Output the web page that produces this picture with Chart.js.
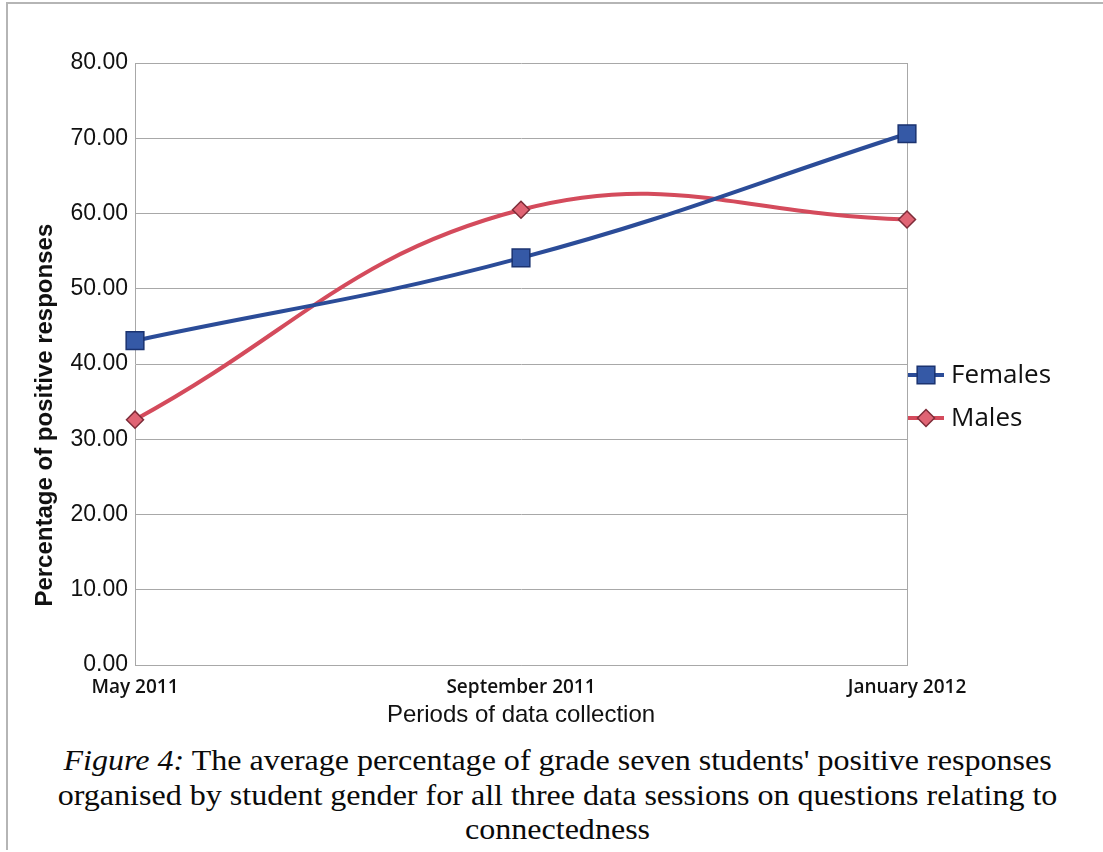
<!DOCTYPE html>
<html>
<head>
<meta charset="utf-8">
<script src="https://cdn.jsdelivr.net/npm/chart.js@4.4.1/dist/chart.umd.min.js"></script>
<style>
  html, body { margin: 0; padding: 0; background: #fff; }
  #page { position: relative; width: 1103px; height: 852px; overflow: hidden; background: #fff; }
  #frame { position: absolute; left: 6px; top: 2px; width: 1097px; height: 848px;
           border-left: 2px solid #b5b5b5; border-top: 2px solid #b5b5b5; box-sizing: border-box; }
  #chartBox { position: absolute; left: 0; top: 0; width: 1103px; height: 740px; }
  #caption { position: absolute; left: 6px; top: 743px; width: 1103px; text-align: center;
             font-family: "Liberation Serif", "Times New Roman", serif; font-size: 29px;
             line-height: 34.5px; color: #0a0a0a; transform: scaleX(1.105); transform-origin: 551px 0; }
  #caption i { font-style: italic; }
</style>
</head>
<body>
<div id="page">
  <div id="frame"></div>
  <div id="chartBox"><canvas id="chart" width="1103" height="740"></canvas></div>
  <div id="caption"><i>Figure 4:</i> The average percentage of grade seven students' positive responses<br>organised by student gender for all three data sessions on questions relating to<br>connectedness</div>
</div>
<script>
// Survey periods and average % of positive responses per gender
const periods = ['May 2011', 'September 2011', 'January 2012'];
const females = [43.1, 54.1, 70.6];
const males = [32.6, 60.5, 59.2];
const yTicks = [0, 10, 20, 30, 40, 50, 60, 70, 80];
const yTitle = 'Percentage of positive responses';

const seriesNames = ['Females', 'Males'];
const lineColors = ['#2B4C98', '#D44B5C'];
const markerFill = ['#3559A6', '#E06474'];
const markerEdge = ['#1B3370', '#7E2C39'];
const markerShape = ['rect', 'rectRot'];
const markerRadius = [12.5, 8.5];

const GRID = '#a8a8a8';

// Legend drawn to the right of the plot: a short line sample with the marker on it
const lineLegend = {
  id: 'lineLegend',
  afterDraw(chart) {
    const { ctx, chartArea } = chart;
    const x0 = chartArea.right + 1;
    const x1 = x0 + 36;
    const rows = [375, 418];
    ctx.save();
    chart.data.datasets.forEach((ds, i) => {
      const y = rows[i];
      ctx.strokeStyle = ds.borderColor;
      ctx.lineWidth = 4;
      ctx.beginPath();
      ctx.moveTo(x0, y);
      ctx.lineTo(x1, y);
      ctx.stroke();
      ctx.fillStyle = ds.pointBackgroundColor;
      ctx.strokeStyle = ds.pointBorderColor;
      ctx.lineWidth = 1.5;
      Chart.helpers.drawPoint(ctx, {
        pointStyle: ds.pointStyle, rotation: 0, borderWidth: 1.5, radius: ds.pointRadius
      }, (x0 + x1) / 2, y);
      ctx.fillStyle = '#111';
      ctx.font = '26px "Open Sans", sans-serif';
      ctx.textAlign = 'left';
      ctx.textBaseline = 'middle';
      ctx.fillText(ds.label, x1 + 7, y + 1);
    });
    ctx.restore();
  }
};

// Right-hand outline of the plot area and the rotated value-axis title
const plotFrame = {
  id: 'plotFrame',
  beforeDatasetsDraw(chart) {
    const { ctx, chartArea } = chart;
    ctx.save();
    ctx.strokeStyle = GRID;
    ctx.lineWidth = 1;
    ctx.beginPath();
    ctx.moveTo(Math.round(chartArea.right) + 0.5, chartArea.top);
    ctx.lineTo(Math.round(chartArea.right) + 0.5, chartArea.bottom);
    ctx.stroke();

    ctx.translate(45, chartArea.top + (chartArea.bottom - chartArea.top) * 0.585);
    ctx.rotate(-Math.PI / 2);
    ctx.fillStyle = '#111';
    ctx.font = 'bold 24px "Liberation Sans", Arial, sans-serif';
    ctx.textAlign = 'center';
    ctx.textBaseline = 'middle';
    ctx.fillText(yTitle, 0, 0);
    ctx.restore();
  }
};

const datasets = [females, males].map((vals, i) => ({
  label: seriesNames[i],
  data: vals,
  borderColor: lineColors[i],
  borderWidth: 4,
  tension: 0.42,
  pointStyle: markerShape[i],
  pointRadius: markerRadius[i],
  pointHoverRadius: markerRadius[i],
  pointBackgroundColor: markerFill[i],
  pointBorderColor: markerEdge[i],
  pointBorderWidth: 1.5,
  clip: false
}));

new Chart(document.getElementById('chart'), {
  type: 'line',
  data: { labels: periods, datasets },
  options: {
    responsive: false,
    animation: false,
    events: [],
    layout: { padding: { top: 63, right: 196, bottom: 0, left: 0 } },
    plugins: {
      legend: { display: false },
      tooltip: { enabled: false }
    },
    scales: {
      x: {
        type: 'category',
        offset: false,
        grid: { display: false, drawTicks: false },
        border: { display: true, color: GRID, width: 1 },
        ticks: {
          padding: 11,
          maxRotation: 0,
          autoSkip: false,
          color: '#111',
          font: { family: '"Open Sans", sans-serif', size: 19, weight: '600' }
        },
        title: {
          display: true,
          text: 'Periods of data collection',
          color: '#111',
          padding: { top: 0, bottom: 10 },
          font: { family: '"Liberation Sans", Arial, sans-serif', size: 24 }
        },
        afterFit(s) { s.height = 75; }
      },
      y: {
        min: 0,
        max: 80,
        afterBuildTicks(s) { s.ticks = yTicks.map(v => ({ value: v })); },
        grid: { color: GRID, lineWidth: 1, drawTicks: false },
        border: { display: true, color: GRID, width: 1 },
        ticks: {
          padding: 7,
          color: '#111',
          font: { family: '"Liberation Sans", Arial, sans-serif', size: 23 },
          callback: v => Number(v).toFixed(2)
        },
        afterFit(s) { s.width = 135; }
      }
    }
  },
  plugins: [plotFrame, lineLegend]
});
</script>
</body>
</html>
